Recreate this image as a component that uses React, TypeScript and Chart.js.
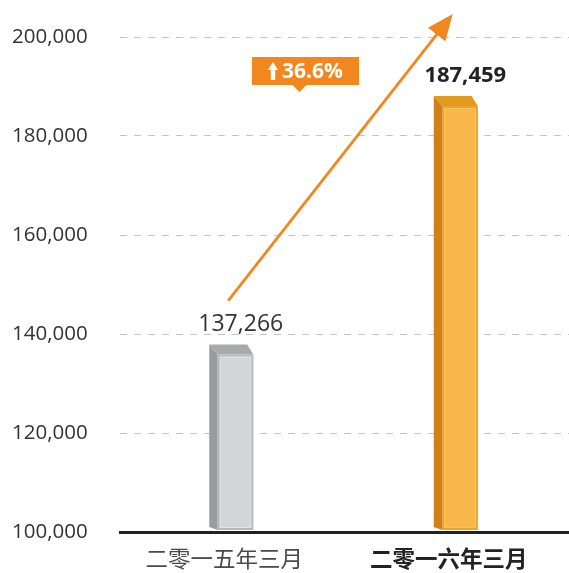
import React, { useEffect, useRef } from "react";
import { Chart, registerables } from "chart.js";

Chart.register(...registerables);

const categories = ["二零一五年三月", "二零一六年三月"];
const values = [137266, 187459];
const valueLabels = ["137,266", "187,459"];
const yMin = 100000;
const yMax = 200000;
const yStep = 20000;

const palettes = [
  { front: "#d3d4d6", frontBorder: "#b7b8bb", highlight: "#e4e5e7", side: "#9a9b9f", top: "#a8a9ac", label: "#333333", weight: "normal", size: 23 },
  { front: "#f9b74b", frontBorder: "#f2a02c", highlight: "#fcc765", side: "#d07f1b", top: "#e39b1e", label: "#222222", weight: "bold", size: 22 },
];

const ORANGE = "#f2871f";

const bar3d = {
  id: "bar3d",
  afterDatasetsDraw(chart: any) {
    const ctx = chart.ctx as CanvasRenderingContext2D;
    const meta = chart.getDatasetMeta(0);
    const ys = chart.scales.y;
    const base = ys.getPixelForValue(yMin);
    const pts: { cx: number; vy: number }[] = [];
    meta.data.forEach((el: any, i: number) => {
      const cx = el.x;
      const vy = ys.getPixelForValue(values[i]);
      const p = palettes[i];
      const fl = cx - 14.5;
      const fr = cx + 21;
      const ft = vy + 7;
      const fb = base - 2;
      const bl = cx - 23;
      const bt = vy - 3;
      const br = cx + 15;
      ctx.save();
      // side face
      ctx.beginPath();
      ctx.moveTo(fl, ft);
      ctx.lineTo(bl, bt);
      ctx.lineTo(bl, fb - 3);
      ctx.lineTo(fl, fb);
      ctx.closePath();
      ctx.fillStyle = p.side;
      ctx.fill();
      // top face
      ctx.beginPath();
      ctx.moveTo(bl, bt);
      ctx.lineTo(br, bt);
      ctx.lineTo(fr, ft);
      ctx.lineTo(fl, ft);
      ctx.closePath();
      ctx.fillStyle = p.top;
      ctx.fill();
      // front face
      ctx.fillStyle = p.front;
      ctx.fillRect(fl, ft, fr - fl, fb - ft);
      ctx.strokeStyle = p.frontBorder;
      ctx.lineWidth = 2;
      ctx.strokeRect(fl + 1, ft + 1, fr - fl - 2, fb - ft - 2);
      ctx.strokeStyle = p.highlight;
      ctx.lineWidth = 1;
      ctx.strokeRect(fl + 2.5, ft + 2.5, fr - fl - 5, fb - ft - 5);
      // value label
      ctx.fillStyle = p.label;
      ctx.font = `${p.weight} ${p.size}px 'Open Sans', sans-serif`;
      ctx.textAlign = "center";
      ctx.textBaseline = "alphabetic";
      ctx.fillText(valueLabels[i], cx + 8.5, vy - 17);
      ctx.restore();
      pts.push({ cx, vy });
    });

    if (pts.length < 2) return;
    const topY = ys.getPixelForValue(yMax);
    // growth arrow
    const sx = pts[0].cx - 4;
    const sy = pts[0].vy - 47;
    const ex = pts[1].cx - 4;
    const ey = topY - 23;
    const ang = Math.atan2(ey - sy, ex - sx);
    const headLen = 26;
    const headHalf = 11;
    const hbx = ex - Math.cos(ang) * headLen;
    const hby = ey - Math.sin(ang) * headLen;
    ctx.save();
    ctx.strokeStyle = ORANGE;
    ctx.lineWidth = 2.8;
    ctx.beginPath();
    ctx.moveTo(sx, sy);
    ctx.lineTo(hbx + Math.cos(ang) * 4, hby + Math.sin(ang) * 4);
    ctx.stroke();
    ctx.fillStyle = ORANGE;
    ctx.beginPath();
    ctx.moveTo(ex, ey);
    ctx.lineTo(hbx + Math.sin(ang) * headHalf, hby - Math.cos(ang) * headHalf);
    ctx.lineTo(hbx - Math.sin(ang) * headHalf, hby + Math.cos(ang) * headHalf);
    ctx.closePath();
    ctx.fill();

    // badge
    const growth = ((values[1] / values[0] - 1) * 100).toFixed(1) + "%";
    const bx0 = 252;
    const bx1 = 359;
    const by0 = topY + 20;
    const by1 = topY + 48;
    const bcx = (bx0 + bx1) / 2;
    ctx.fillStyle = ORANGE;
    ctx.fillRect(bx0, by0, bx1 - bx0, by1 - by0);
    ctx.beginPath();
    ctx.moveTo(bcx - 13, by1);
    ctx.lineTo(bcx - 6, by1 + 7);
    ctx.lineTo(bcx + 1, by1);
    ctx.closePath();
    ctx.fill();
    ctx.font = "bold 21px 'Open Sans', sans-serif";
    const tw = ctx.measureText(growth).width;
    const iconW = 10;
    const gap = 4;
    const startX = bcx - (iconW + gap + tw) / 2;
    const midY = (by0 + by1) / 2;
    // up arrow icon
    ctx.fillStyle = "#ffffff";
    ctx.beginPath();
    ctx.moveTo(startX + iconW / 2, midY - 9);
    ctx.lineTo(startX + iconW, midY - 1);
    ctx.lineTo(startX + iconW / 2 + 2.2, midY - 1);
    ctx.lineTo(startX + iconW / 2 + 2.2, midY + 9);
    ctx.lineTo(startX + iconW / 2 - 2.2, midY + 9);
    ctx.lineTo(startX + iconW / 2 - 2.2, midY - 1);
    ctx.lineTo(startX, midY - 1);
    ctx.closePath();
    ctx.fill();
    ctx.textAlign = "left";
    ctx.textBaseline = "middle";
    ctx.fillText(growth, startX + iconW + gap, midY + 1);
    ctx.restore();
  },
};

export default function App() {
  const ref = useRef<HTMLCanvasElement | null>(null);
  useEffect(() => {
    if (!ref.current) return;
    Chart.defaults.font.family = "'Open Sans', sans-serif";
    const chart = new Chart(ref.current, {
      type: "bar",
      data: {
        labels: categories,
        datasets: [
          {
            data: values,
            backgroundColor: "rgba(0,0,0,0)",
            borderWidth: 0,
            barThickness: 36,
          },
        ],
      },
      options: {
        responsive: false,
        animation: false,
        layout: { padding: { top: 37, right: 0, left: 12, bottom: 0 } },
        plugins: { legend: { display: false }, tooltip: { enabled: false } },
        scales: {
          x: {
            grid: { display: false, drawTicks: false },
            border: { display: true, color: "#222222", width: 3 },
            ticks: {
              padding: 13,
              labelOffset: -8,
              color: (c: any) => (c.index === 1 ? "#222222" : "#4a4a4a"),
              font: (c: any) => ({
                family: "'Noto Sans CJK SC', sans-serif",
                size: 22.5,
                weight: c.index === 1 ? "bold" : "normal",
              }),
            },
            afterFit: (s: any) => {
              s.height = 41;
            },
          },
          y: {
            min: yMin,
            max: yMax,
            grid: { color: "#c4c4c4", drawTicks: false, lineWidth: 1 },
            border: { display: false, dash: [7, 7] },
            ticks: {
              stepSize: yStep,
              padding: 0,
              crossAlign: "far",
              color: "#333333",
              font: { size: 20.5 },
              callback: (v: any) => Number(v).toLocaleString("en-US"),
            },
            afterFit: (s: any) => {
              s.width = 108;
            },
          },
        },
      },
      plugins: [bar3d],
    } as any);
    return () => chart.destroy();
  }, []);
  return (
    <div style={{ position: "absolute", left: 0, top: 0, width: 569, height: 573, background: "#ffffff" }}>
      <canvas ref={ref} width={569} height={573} style={{ display: "block" }} />
    </div>
  );
}
